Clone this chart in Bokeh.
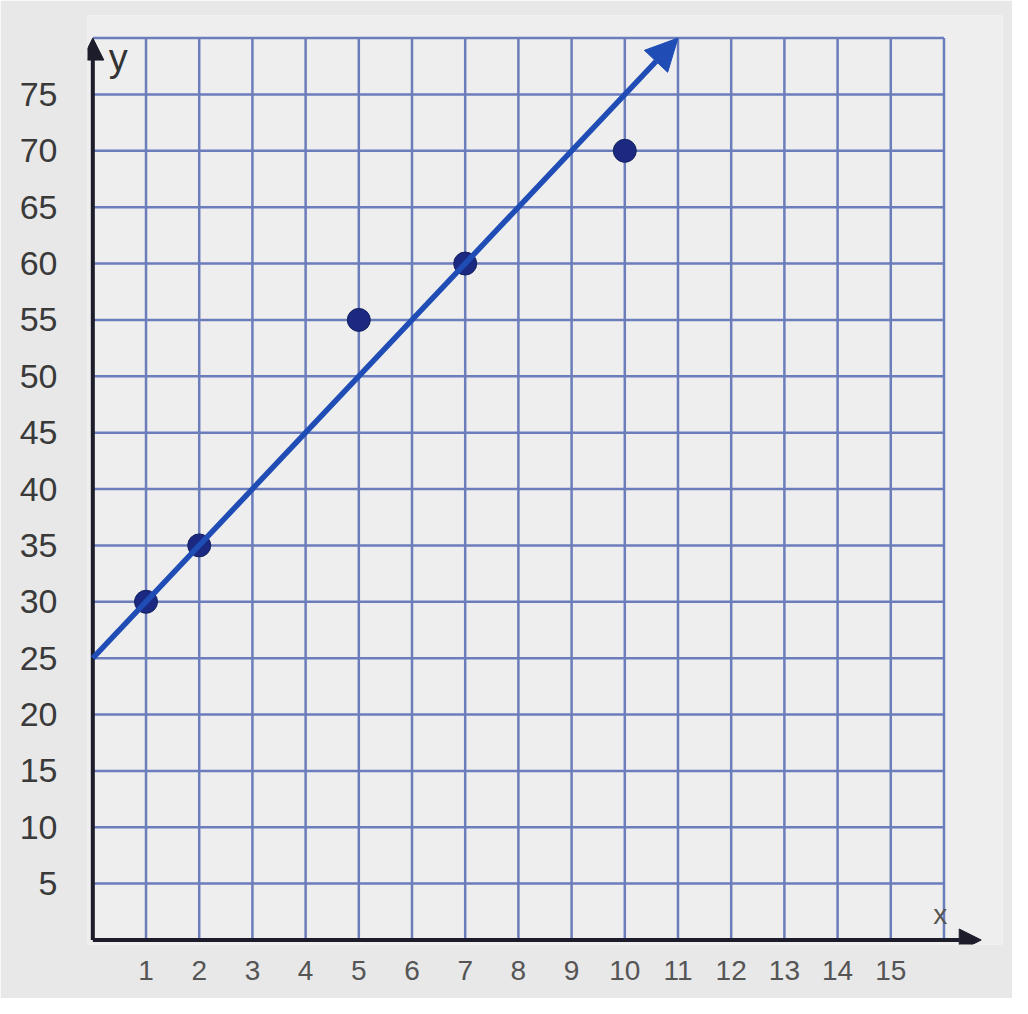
from bokeh.plotting import figure
from bokeh.models import FixedTicker, Arrow, NormalHead
from bokeh.core.properties import value
from bokeh.embed import file_html
from bokeh.resources import INLINE

# ---- data ----
x_ticks = [1, 2, 3, 4, 5, 6, 7, 8, 9, 10, 11, 12, 13, 14, 15]
y_ticks = [5, 10, 15, 20, 25, 30, 35, 40, 45, 50, 55, 60, 65, 70, 75]
grid_x = [1, 2, 3, 4, 5, 6, 7, 8, 9, 10, 11, 12, 13, 14, 15, 16]
grid_y = [5, 10, 15, 20, 25, 30, 35, 40, 45, 50, 55, 60, 65, 70, 75, 80]
points_x = [1, 2, 5, 7, 10]
points_y = [30, 35, 55, 60, 70]
line_intercept = 25
line_slope = 5
line_x_end = 11
x_axis_end = 16.7
y_axis_end = 80

grid_xmax = grid_x[-1]
grid_ymax = grid_y[-1]

p = figure(width=1012, height=998, x_range=(-0.1, 17.1), y_range=(-0.4, 82),
           output_backend="svg", toolbar_location=None,
           min_border_left=87, min_border_right=10, min_border_top=15, min_border_bottom=54)
p.background_fill_color = "#eeeeee"
p.border_fill_color = "#e8e8e8"
p.outline_line_color = None
p.xgrid.visible = False
p.ygrid.visible = False

grid_color = "#6b7dbb"
# vertical grid lines
p.segment(x0=grid_x, y0=[0] * len(grid_x), x1=grid_x, y1=[grid_ymax] * len(grid_x),
          line_color=grid_color, line_width=2.5)
# horizontal grid lines
p.segment(x0=[0] * len(grid_y), y0=grid_y, x1=[grid_xmax] * len(grid_y), y1=grid_y,
          line_color=grid_color, line_width=2.5)

# axes with arrows
axis_color = "#1c1c2a"
p.add_layout(Arrow(end=NormalHead(size=22, fill_color=axis_color, line_color=axis_color),
                   x_start=0, y_start=0, x_end=0, y_end=y_axis_end,
                   line_color=axis_color, line_width=4))
p.add_layout(Arrow(end=NormalHead(size=22, fill_color=axis_color, line_color=axis_color),
                   x_start=0, y_start=0, x_end=x_axis_end, y_end=0,
                   line_color=axis_color, line_width=4))

# line of best fit
line_color = "#1f4db5"
p.add_layout(Arrow(end=NormalHead(size=32, fill_color=line_color, line_color=line_color),
                   x_start=0, y_start=line_intercept,
                   x_end=line_x_end, y_end=line_intercept + line_slope * line_x_end,
                   line_color=line_color, line_width=5.5))

# data points
p.scatter(points_x, points_y, size=23, fill_color="#1b2a80", line_color="#14205e", line_width=1)

# axis name labels
p.text(x=[0.3], y=[76.4], text=["y"], text_font=value("Liberation Sans"),
       text_font_size="38px", text_color="#333333")
p.text(x=[15.8], y=[0.9], text=["x"], text_font=value("Liberation Sans"),
       text_font_size="28px", text_color="#555555")

# tick labels
p.xaxis.ticker = FixedTicker(ticks=x_ticks)
p.yaxis.ticker = FixedTicker(ticks=y_ticks)
for ax in (p.xaxis, p.yaxis):
    ax.axis_line_color = None
    ax.major_tick_line_color = None
    ax.minor_tick_line_color = None
    ax.major_label_text_font = "Liberation Sans"
p.xaxis.major_label_text_font_size = "28px"
p.xaxis.major_label_text_color = "#555555"
p.xaxis.major_label_standoff = 10
p.yaxis.major_label_text_font_size = "34px"
p.yaxis.major_label_text_color = "#3a3a3a"
p.yaxis.major_label_standoff = 24

open("out.html", "w").write(file_html(p, INLINE))
